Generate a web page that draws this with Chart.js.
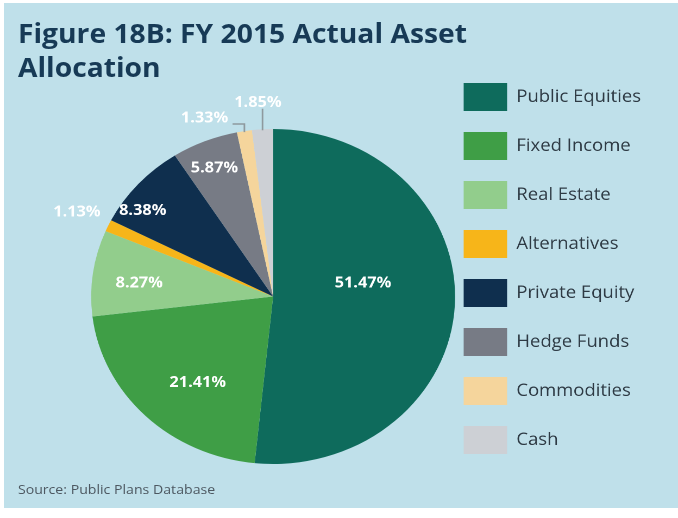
<!DOCTYPE html>
<html>
<head>
<meta charset="utf-8">
<script src="https://cdn.jsdelivr.net/npm/chart.js@4.4.0/dist/chart.umd.min.js"></script>
<style>
  html, body { margin: 0; padding: 0; background: #fff; width: 678px; height: 518px; overflow: hidden; }
  #panel { position: absolute; left: 4px; top: 3px; width: 674px; height: 505px; background: #bfe0ea; }
  /* the reference is stretched a little horizontally, so draw at 624 wide and scale */
  #stage { position: absolute; left: 0; top: 0; width: 624px; height: 540px; transform: scaleX(1.0865); transform-origin: 0 0; }
  #title { position: absolute; left: 16.5px; top: 16px; font-family: "Open Sans"; font-weight: 700; font-size: 26px; line-height: 34px; color: #173a56; white-space: nowrap; }
  #source { position: absolute; left: 16.5px; top: 480px; font-family: "Open Sans"; font-size: 13px; color: #4d5861; white-space: nowrap; }
  #chart { position: absolute; left: 0; top: 0; }
</style>
</head>
<body>
<div id="panel"></div>
<div id="stage">
  <div id="title">Figure 18B: FY 2015 Actual Asset<br>Allocation</div>
  <div id="source">Source: Public Plans Database</div>
  <canvas id="chart" width="624" height="540"></canvas>
</div>
<script>
var categories = ['Public Equities', 'Fixed Income', 'Real Estate', 'Alternatives',
                  'Private Equity', 'Hedge Funds', 'Commodities', 'Cash'];
var shares = [51.47, 21.41, 8.27, 1.13, 8.38, 5.87, 1.33, 1.85];
var colors = ['#0e6b5c', '#3f9e46', '#92cd8c', '#f7b519', '#0f2f4e', '#777b85', '#f5d59c', '#cdd0d5'];

// label placement: fraction of radius and angle nudge (deg) from slice middle
var labelDist  = [0.50, 0.66, 0.74, 1.19, 0.88, 0.83, 1.13, 1.16];
var labelNudge = [-12, -5.6, -1.9, 0, -6.7, -0.8, -10.4, -0.8];
var leader     = [false, false, false, false, false, false, true, true];

var sliceLabels = {
  id: 'sliceLabels',
  afterDatasetsDraw: function(chart) {
    var ctx = chart.ctx;
    var meta = chart.getDatasetMeta(0);
    ctx.save();
    ctx.font = '700 15px "Open Sans"';
    ctx.textAlign = 'center';
    ctx.textBaseline = 'middle';
    meta.data.forEach(function(arc, i) {
      var p = arc.getProps(['x', 'y', 'startAngle', 'endAngle', 'outerRadius'], true);
      var mid = (p.startAngle + p.endAngle) / 2;
      var a = mid + labelNudge[i] * Math.PI / 180;
      var r = p.outerRadius * labelDist[i];
      var lx = p.x + Math.cos(a) * r;
      var ly = p.y + Math.sin(a) * r;
      var txt = shares[i].toFixed(2) + '%';
      if (leader[i]) {
        var ex = p.x + Math.cos(mid) * p.outerRadius;
        var ey = p.y + Math.sin(mid) * p.outerRadius;
        var w = ctx.measureText(txt).width;
        ctx.beginPath();
        ctx.moveTo(ex, ey + 1);
        ctx.lineTo(ex, ly + 6);
        if (ex - lx > w / 2 + 4) ctx.lineTo(lx + w / 2 + 4, ly + 6);
        ctx.strokeStyle = '#8e999e';
        ctx.lineWidth = 1.5;
        ctx.stroke();
      }
      ctx.fillStyle = '#ffffff';
      ctx.fillText(txt, lx, ly);
    });
    ctx.restore();
  }
};

new Chart(document.getElementById('chart').getContext('2d'), {
  type: 'pie',
  data: {
    labels: categories,
    datasets: [{
      data: shares,
      backgroundColor: colors,
      borderWidth: 0,
      radius: 167.5
    }]
  },
  options: {
    responsive: false,
    animation: false,
    devicePixelRatio: 2,
    layout: { padding: { left: 97, right: 24, top: 62, bottom: 9 } },
    plugins: {
      tooltip: { enabled: false },
      legend: {
        position: 'right',
        align: 'start',
        labels: {
          boxWidth: 40,
          boxHeight: 28,
          padding: 21,
          color: '#2e3a44',
          font: { family: 'Open Sans', size: 17 }
        }
      }
    }
  },
  plugins: [sliceLabels]
});
</script>
</body>
</html>
